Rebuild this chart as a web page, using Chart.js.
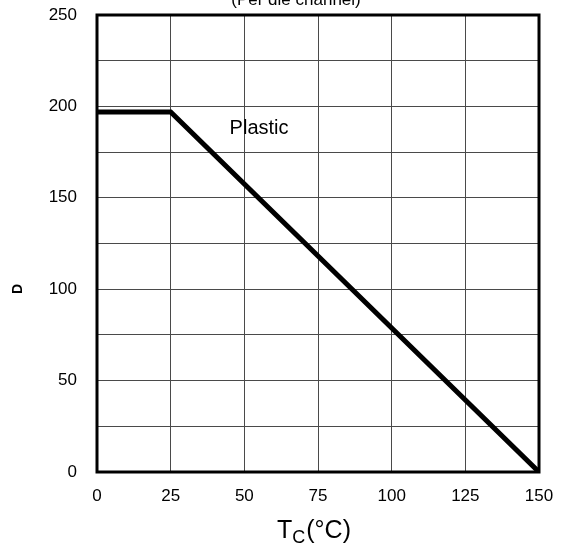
<!DOCTYPE html>
<html>
<head>
<meta charset="utf-8">
<script src="https://cdn.jsdelivr.net/npm/chart.js@4"></script>
<style>
  html, body { margin: 0; padding: 0; background: #fff; }
  #wrap { width: 563px; height: 548px; }
</style>
</head>
<body>
<div id="wrap"><canvas id="chart" width="563" height="548"></canvas></div>
<script>
// derating curve
const tempC = [0, 25, 150]
const powerD = [197, 197, 0]
const xTicks = [0, 25, 50, 75, 100, 125, 150]
const yTicks = [0, 50, 100, 150, 200, 250]

const FONT = '"Liberation Sans", Arial, Helvetica, sans-serif'

let points = []
for (let i = 0; i < tempC.length; i++) {
  points.push({x: tempC[i], y: powerD[i]})
}

// frame, labels and titles that chart.js can't do natively
const extras = {
  id: 'extras',
  beforeDatasetsDraw(chart) {
    const {ctx, chartArea: a} = chart
    ctx.save()
    ctx.strokeStyle = '#000'
    ctx.lineWidth = 3
    ctx.strokeRect(a.left, a.top, a.right - a.left, a.bottom - a.top)
    ctx.restore()
  },
  afterDraw(chart) {
    const {ctx, scales} = chart
    ctx.save()
    ctx.fillStyle = '#000'

    // cut-off title at the very top
    ctx.font = '17px ' + FONT
    ctx.textAlign = 'center'
    ctx.textBaseline = 'alphabetic'
    ctx.fillText('(Per die channel)', 296, 5)

    // curve label
    ctx.font = '20px ' + FONT
    ctx.textBaseline = 'middle'
    ctx.fillText('Plastic', scales.x.getPixelForValue(55), scales.y.getPixelForValue(188))

    // y axis title
    ctx.save()
    ctx.translate(18, 289)
    ctx.rotate(-Math.PI / 2)
    ctx.font = 'bold 14px ' + FONT
    ctx.fillText('D', 0, 0)
    ctx.restore()

    // x axis title T_C(°C)
    ctx.textBaseline = 'alphabetic'
    ctx.textAlign = 'left'
    let x = 277
    ctx.font = '25px ' + FONT
    ctx.fillText('T', x, 538)
    x += ctx.measureText('T').width
    ctx.font = '18px ' + FONT
    ctx.fillText('C', x, 543)
    x += ctx.measureText('C').width + 1
    ctx.font = '25px ' + FONT
    ctx.fillText('(°C)', x, 538)
    ctx.restore()
  }
}

new Chart(document.getElementById('chart'), {
  type: 'scatter',
  data: {
    datasets: [{
      data: points,
      showLine: true,
      borderColor: '#000',
      borderWidth: 5,
      pointRadius: 0,
      tension: 0,
      borderCapStyle: 'butt',
      borderJoinStyle: 'miter'
    }]
  },
  options: {
    responsive: false,
    animation: false,
    layout: { padding: { left: 0, top: 15, right: 24, bottom: 0 } },
    plugins: {
      legend: { display: false },
      tooltip: { enabled: false }
    },
    scales: {
      x: {
        type: 'linear',
        min: 0, max: 150,
        afterBuildTicks: (s) => { s.ticks = xTicks.map(v => ({value: v})) },
        afterFit: (s) => { s.height = 76; s.paddingLeft = 0; s.paddingRight = 0 },
        ticks: { color: '#000', padding: 14, font: { family: FONT, size: 17 } },
        grid: { color: '#4a4a4a', lineWidth: 1, drawTicks: false },
        border: { display: false }
      },
      y: {
        min: 0, max: 250,
        ticks: {
          stepSize: 25,
          color: '#000',
          padding: 20,
          font: { family: FONT, size: 17 },
          callback: (v) => yTicks.includes(v) ? v : ''
        },
        afterFit: (s) => { s.width = 97; s.paddingTop = 0; s.paddingBottom = 0 },
        grid: { color: '#4a4a4a', lineWidth: 1, drawTicks: false },
        border: { display: false }
      }
    }
  },
  plugins: [extras]
})
</script>
</body>
</html>
